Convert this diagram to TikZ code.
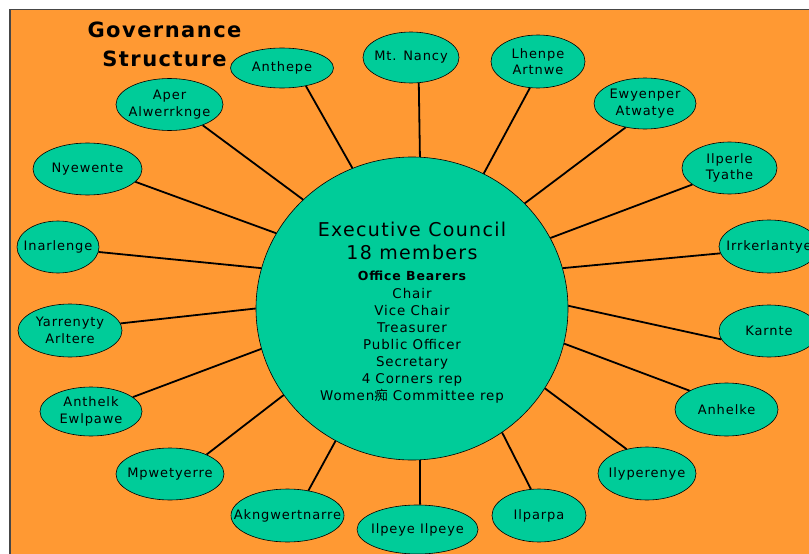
\documentclass[tikz,border=0pt]{standalone}
\usepackage{fontspec}
\setmainfont{DejaVu Sans}[LetterSpace=7]
\newfontfamily\cjk{Noto Sans CJK SC}
\usetikzlibrary{shapes.geometric}
\definecolor{frameorange}{RGB}{255,153,51}
\definecolor{groupteal}{RGB}{0,204,153}
\definecolor{framegray}{RGB}{70,70,70}

\begin{document}
\begin{tikzpicture}[x=1pt,y=-1pt]
                % define styles
\tikzset{group/.style={ellipse,
                       draw=black,
                       fill=groupteal,
                       line width=0.6pt,
                       inner sep=0,
                       minimum width=100pt,
                       minimum height=52pt,
                       label={[grouptext]center:#1},
                       },
         grouptext/.style={align=center,
                       inner sep=0,
                       font=\fontsize{13}{16.5}\selectfont,
                       },
         council/.style={ellipse,
                       draw=black,
                       fill=groupteal,
                       line width=0.6pt,
                       inner sep=0,
                       minimum width=312pt,
                       minimum height=303pt,
                       align=center,
                       font=\fontsize{13.4}{17}\selectfont,
                       },
         link/.style={line width=1.8pt,
                       draw=black,
                       }
}

\useasboundingbox (0,0) rectangle (809,554);
\clip (0,0) rectangle (809,554);

% background frame
\draw[framegray, line width=1.6pt, fill=frameorange] (10,9.5) rectangle (840,590);

% title
\node[align=center, font=\bfseries\fontsize{21}{29}\selectfont] (title) at (164.5,44) {Governance\\Structure};

% council
\node[council] (exec) at (412,308.5)
    {{\fontsize{19}{24}\selectfont\rule{0pt}{22.5pt}Executive Council}\\[6pt]
     {\fontsize{19}{24}\selectfont 18 members}\\[4pt]
     {\bfseries\fontsize{12.5}{15}\selectfont Office Bearers}\\[1pt]
     Chair\\
     Vice Chair\\
     Treasurer\\
     Public Officer\\
     Secretary\\
     4 Corners rep\\
     Women{\cjk 痴} Committee rep};

% groups
\node[group={Aper\\Alwerrknge}, minimum width=107pt]                      (aper)       at (169.5,104.5) {};
\node[group=Anthepe, minimum width=103pt, minimum height=40pt]              (anthepe)    at (282,68)      {};
\node[group={Mt. Nancy}, minimum width=96pt, minimum height=51pt]          (mtnancy)    at (411,57.5)    {};
\node[group={Lhenpe\\Artnwe}, minimum width=94pt, minimum height=53pt]     (lhenpe)     at (538,61.5)    {};
\node[group={Ewyenper\\Atwatye}, minimum width=102pt, minimum height=51pt] (ewyenper)   at (645,103.5)   {};
\node[group={Ilperle\\Tyathe}, minimum width=95pt]                         (ilperle)    at (729.5,168)   {};
\node[group=Irrkerlantye, minimum height=53pt]                             (irrker)     at (769,246.5)   {};
\node[group=Karnte]                                                        (karnte)     at (769,331)     {};
\node[group=Anhelke, minimum width=103pt, minimum height=53pt]             (anhelke)    at (726.5,409.5) {};
\node[group=Ilyperenye, minimum width=98pt, minimum height=53pt]           (ilyperenye) at (647,473.5)   {};
\node[group=Ilparpa, minimum width=94pt, minimum height=53pt]              (ilparpa)    at (539,515.5)   {};
\node[group={Ilpeye Ilpeye}, minimum width=121pt, minimum height=49pt]     (ilpeye)     at (417.5,529.5) {};
\node[group=Akngwertnarre, minimum width=113pt, minimum height=53pt]       (akng)       at (287.5,515.5) {};
\node[group=Mpwetyerre, minimum width=108pt]                               (mpwetyerre) at (170,474)     {};
\node[group={Anthelk\\Ewlpawe}, minimum width=102pt, minimum height=49pt]  (anthelk)    at (91,411.5)    {};
\node[group={Yarrenyty\\Arltere}, minimum width=104pt, minimum height=53pt] (yarrenyty) at (70,330.5)    {};
\node[group=Inarlenge, minimum width=82pt]                                 (inarlenge)  at (58,247)      {};
\node[group=Nyewente, minimum width=109pt]                                 (nyewente)   at (87.5,169)    {};

% links from the council to each group
\foreach \name/\from/\to in {aper/135/328, anthepe/113/323, mtnancy/87/287,
                             lhenpe/62/253, ewyenper/43/231, ilperle/27/204,
                             irrker/15/188, karnte/1/190, anhelke/347/153,
                             ilyperenye/329/130, ilparpa/306/107, ilpeye/273/84,
                             akng/240/50, mpwetyerre/214/28, anthelk/195/19,
                             yarrenyty/180/8, inarlenge/165/353, nyewente/151/345}
    \draw[link] (exec.\from) -- (\name.\to);

\end{tikzpicture}
\end{document}
